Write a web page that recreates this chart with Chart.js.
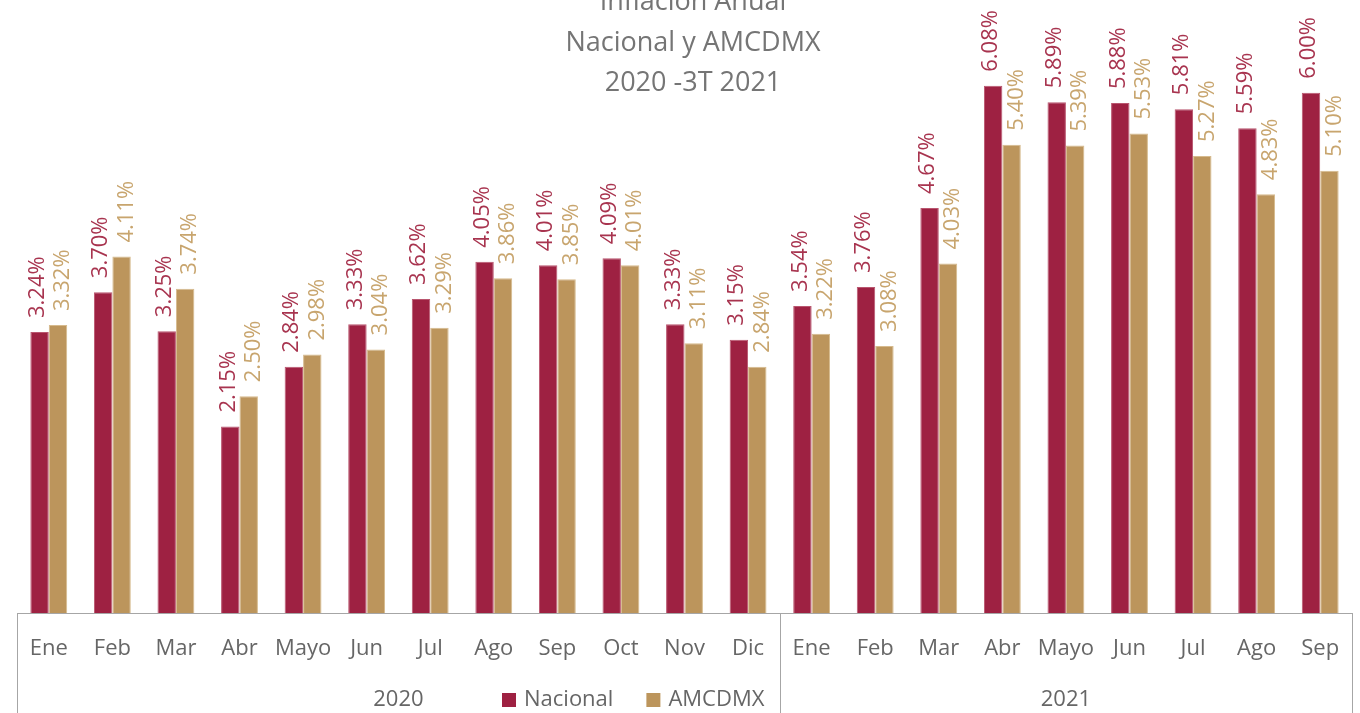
<!DOCTYPE html>
<html>
<head>
<meta charset="utf-8">
<script src="https://cdn.jsdelivr.net/npm/chart.js@4.4.1/dist/chart.umd.min.js"></script>
<style>
body { margin: 0; background: #fff; }
</style>
</head>
<body>
<canvas id="myChart" width="1360" height="713"></canvas>
<script>
var months = ["Ene", "Feb", "Mar", "Abr", "Mayo", "Jun", "Jul", "Ago", "Sep", "Oct", "Nov", "Dic",
              "Ene", "Feb", "Mar", "Abr", "Mayo", "Jun", "Jul", "Ago", "Sep"];
var nacional = [3.24, 3.70, 3.25, 2.15, 2.84, 3.33, 3.62, 4.05, 4.01, 4.09, 3.33, 3.15,
                3.54, 3.76, 4.67, 6.08, 5.89, 5.88, 5.81, 5.59, 6.00];
var amcdmx = [3.32, 4.11, 3.74, 2.50, 2.98, 3.04, 3.29, 3.86, 3.85, 4.01, 3.11, 2.84,
              3.22, 3.08, 4.03, 5.40, 5.39, 5.53, 5.27, 4.83, 5.10];
var years = ["2020", "2021"];
var yearBounds = [0, 12, 21]; // month index where each year starts / ends
var titleLines = ["Inflación Anual", "Nacional y AMCDMX", "2020 -3T 2021"];

var textGray = "#666666";
var lineGray = "#A6A6A6";

// the year axis works in half-month steps so each year label sits on a tick
function yearLabels() {
  var out = [];
  for (var i = 0; i <= months.length * 2; i++) out.push("");
  for (var y = 0; y < years.length; y++) {
    out[yearBounds[y] + yearBounds[y + 1]] = years[y];
  }
  return out;
}

var extras = {
  id: "extras",
  afterDatasetsDraw: function (chart) {
    var ctx = chart.ctx;
    ctx.save();
    ctx.font = '22px "Open Sans"';
    ctx.textAlign = "left";
    ctx.textBaseline = "middle";
    chart.data.datasets.forEach(function (ds, i) {
      chart.getDatasetMeta(i).data.forEach(function (bar, j) {
        ctx.save();
        ctx.translate(bar.x + ds.labelShift, bar.y - 14);
        ctx.rotate(-Math.PI / 2);
        ctx.fillStyle = ds.labelColor;
        ctx.fillText(ds.data[j].toFixed(2) + "%", 0, 0);
        ctx.restore();
      });
    });
    ctx.restore();
  },
  afterDraw: function (chart) {
    var ctx = chart.ctx;
    var area = chart.chartArea;
    var xs = chart.scales.xYear;
    ctx.save();

    // year separators
    ctx.strokeStyle = lineGray;
    ctx.lineWidth = 1;
    yearBounds.forEach(function (b) {
      var px = Math.round(xs.getPixelForValue(b * 2)) + 0.5;
      ctx.beginPath();
      ctx.moveTo(px, area.bottom);
      ctx.lineTo(px, chart.height);
      ctx.stroke();
    });

    // title
    ctx.fillStyle = "#757575";
    ctx.font = '27px "Open Sans"';
    ctx.textAlign = "center";
    ctx.textBaseline = "alphabetic";
    titleLines.forEach(function (t, i) {
      ctx.fillText(t, 693, 10 + i * 40.5);
    });

    // legend
    ctx.font = '22px "Open Sans"';
    ctx.textAlign = "left";
    ctx.textBaseline = "middle";
    var lx = 502, ly = 700;
    chart.data.datasets.forEach(function (ds) {
      ctx.fillStyle = ds.backgroundColor;
      ctx.fillRect(lx, ly - 7, 14, 14);
      ctx.fillStyle = textGray;
      ctx.fillText(ds.label, lx + 22, ly);
      lx += 22 + ctx.measureText(ds.label).width + 33;
    });
    ctx.restore();
  }
};

new Chart(document.getElementById("myChart"), {
  type: "bar",
  data: {
    labels: months,
    datasets: [
      {
        label: "Nacional",
        data: nacional,
        backgroundColor: "#9E2142",
        borderColor: "#B9566F",
        borderWidth: 1,
        labelColor: "#A8344F",
        labelShift: -2
      },
      {
        label: "AMCDMX",
        data: amcdmx,
        backgroundColor: "#BC955C",
        borderColor: "#D6BA8D",
        borderWidth: 1,
        labelColor: "#C8A56E",
        labelShift: 5
      }
    ]
  },
  options: {
    responsive: false,
    animation: false,
    layout: { padding: { left: 17, right: 8, top: 6, bottom: 0 } },
    datasets: { bar: { categoryPercentage: 0.58, barPercentage: 1 } },
    plugins: {
      legend: { display: false },
      title: { display: false },
      tooltip: { enabled: false }
    },
    scales: {
      y: { display: false, min: 0, max: 7 },
      x: {
        weight: 0,
        // invisible tick marks push the month labels down without side padding
        grid: { display: true, drawOnChartArea: false, drawTicks: true, tickLength: 23, color: "rgba(0,0,0,0)" },
        border: { display: true, color: lineGray, width: 1 },
        ticks: {
          padding: 0,
          color: textGray,
          maxRotation: 0,
          autoSkip: false,
          font: { family: "Open Sans", size: 22 }
        },
        afterFit: function (s) { s.height = 74; }
      },
      xYear: {
        type: "category",
        labels: yearLabels(),
        offset: false,
        position: "bottom",
        weight: 1,
        grid: { display: false, drawTicks: false },
        border: { display: false },
        ticks: {
          padding: 0,
          color: textGray,
          maxRotation: 0,
          autoSkip: false,
          font: { family: "Open Sans", size: 22 }
        },
        afterFit: function (s) { s.height = 26; }
      }
    }
  },
  plugins: [extras]
});
</script>
</body>
</html>
